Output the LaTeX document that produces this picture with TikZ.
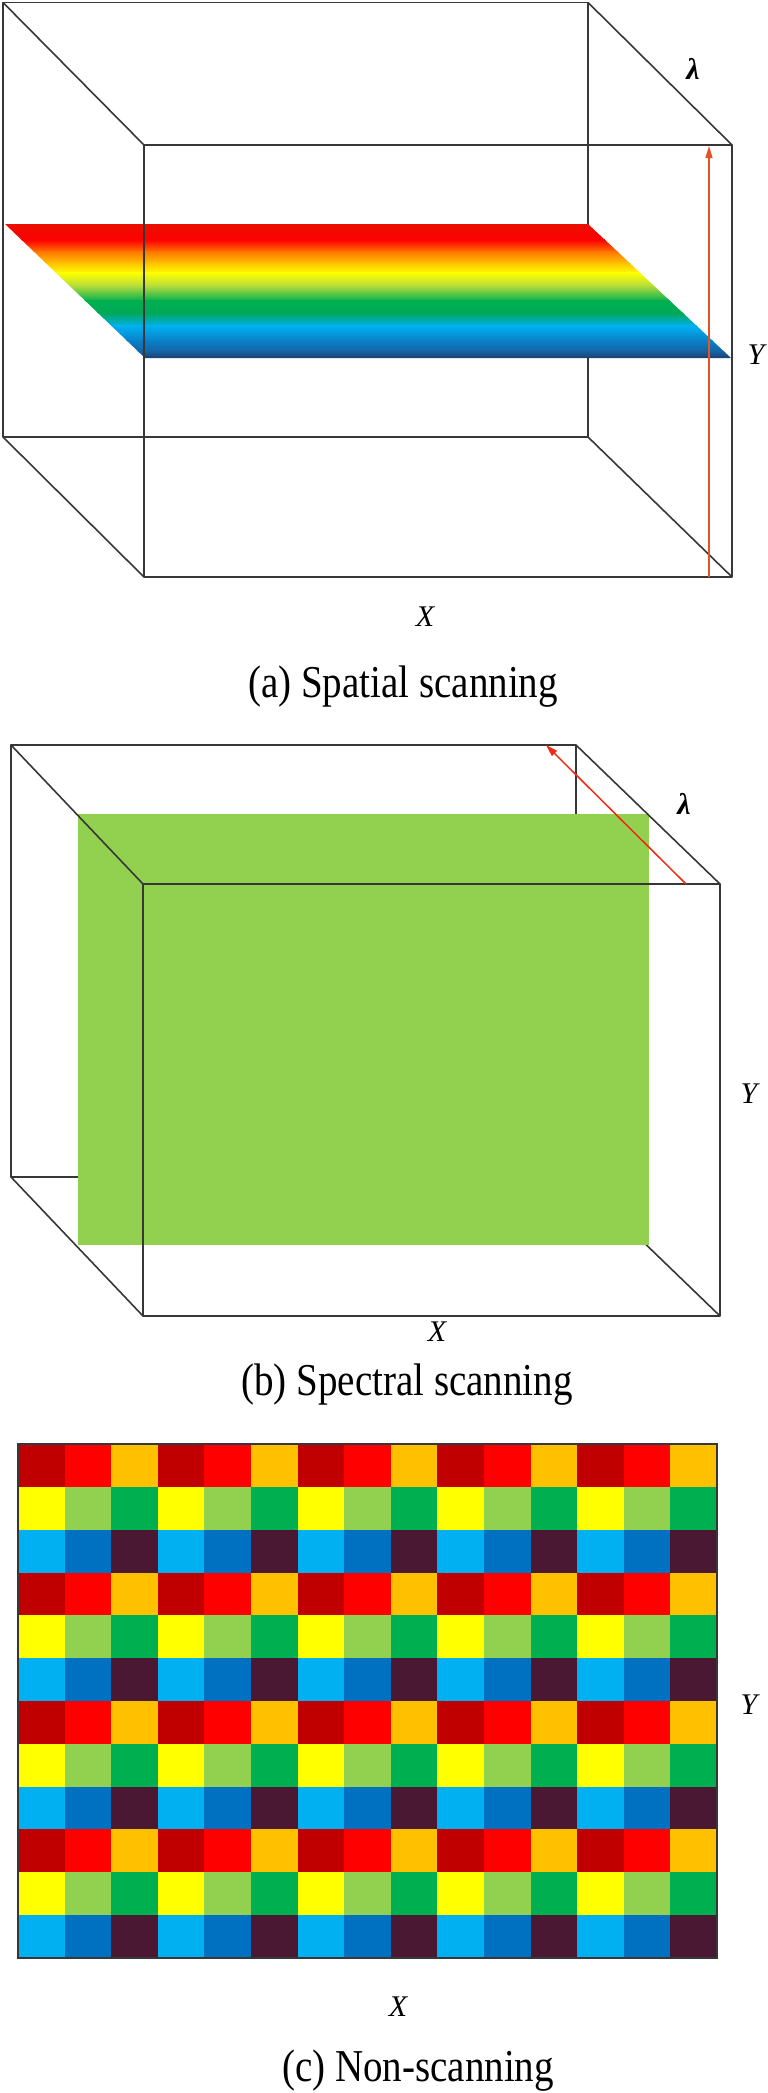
\documentclass[tikz,border=0pt]{standalone}
\usepackage{fontspec}
\setmainfont{Liberation Serif}
\usepackage{xcolor}
\usepackage{graphicx}
\usepackage{tikz}
\usetikzlibrary{arrows.meta, positioning, calc}
\definecolor{HSIEdge}{RGB}{55, 55, 55}
\definecolor{HSIArrowA}{RGB}{226, 84, 36}
\definecolor{HSIArrowB}{RGB}{240, 40, 20}
\definecolor{HSIGreen}{HTML}{92D050}
\definecolor{HSIr0}{HTML}{E81000}
\definecolor{HSIr1}{HTML}{FF0000}
\definecolor{HSIr2}{HTML}{FF7800}
\definecolor{HSIr3}{HTML}{FFC000}
\definecolor{HSIr4}{HTML}{FFFF00}
\definecolor{HSIr5}{HTML}{B4DC3C}
\definecolor{HSIr6}{HTML}{00B050}
\definecolor{HSIr7}{HTML}{00A858}
\definecolor{HSIr8}{HTML}{00B0F0}
\definecolor{HSIr9}{HTML}{0A80C8}
\definecolor{HSIr10}{HTML}{1560A0}
\definecolor{HSIr11}{HTML}{203864}
\definecolor{HSIc00}{HTML}{C00000}
\definecolor{HSIc01}{HTML}{FF0000}
\definecolor{HSIc02}{HTML}{FFC000}
\definecolor{HSIc10}{HTML}{FFFF00}
\definecolor{HSIc11}{HTML}{92D050}
\definecolor{HSIc12}{HTML}{00B050}
\definecolor{HSIc20}{HTML}{00B0F0}
\definecolor{HSIc21}{HTML}{0070C0}
\definecolor{HSIc22}{HTML}{4A1832}
\newcommand{\capt}[1]{{\fontsize{39}{44}\selectfont\scalebox{1}[1.17]{#1}}}
\newcommand{\axis}[1]{{\fontsize{30}{34}\selectfont\itshape #1}}

\begin{document}
\begin{tikzpicture}[x=1pt, y=-1pt,
    edge/.style={draw=HSIEdge, line width=1.6pt, line join=round},
    scanarrow/.style={line width=1.5pt, -{Triangle[length=12pt, width=7pt]}}]
  \useasboundingbox (0,0) rectangle (768,2093);

  % (a) spatial scanning
  \coordinate (aBTL) at (3,2.5);   \coordinate (aBTR) at (588,2.5);
  \coordinate (aBBR) at (588,437); \coordinate (aBBL) at (3,437);
  \coordinate (aFTL) at (144,145); \coordinate (aFTR) at (732,145);
  \coordinate (aFBR) at (732,577); \coordinate (aFBL) at (144,577);
  \draw[edge] (aBTL) rectangle (aBBR);
  \draw[edge] (aBTL) -- (aFTL) (aBTR) -- (aFTR) (aBBL) -- (aFBL) (aBBR) -- (aFBR);
  \begin{scope}
    \clip (5,224) -- (588,224) -- (731,358) -- (145,358) -- cycle;
    \foreach \ya/\yb/\ca/\cb in {224/240/HSIr0/HSIr1, 240/252/HSIr1/HSIr2,
        252/263/HSIr2/HSIr3, 263/273/HSIr3/HSIr4, 273/286/HSIr4/HSIr5,
        286/301/HSIr5/HSIr6, 301/313/HSIr6/HSIr7, 313/326/HSIr7/HSIr8,
        326/341/HSIr8/HSIr9, 341/352/HSIr9/HSIr10, 352/359/HSIr10/HSIr11}
      \shade[top color=\ca, bottom color=\cb] (0,\ya-0.4) rectangle (740,\yb+0.4);
  \end{scope}
  \draw[edge] (aFTL) rectangle (aFBR);
  \coordinate (aFoot) at (709,577);
  \coordinate (aTip) at (709,146);
  \draw[scanarrow, HSIArrowA, line width=1.3pt] (aFoot) -- (aTip);
  \node (lamA) at (693,69) {\axis{\bfseries λ}};
  \node (yA) at (756,355) {\axis{Y}};
  \node (xA) at (425,617) {\axis{X}};
  \node[anchor=base] (capA) at (403,697) {\capt{(a) Spatial scanning}};

  % (b) spectral scanning
  \coordinate (bBTL) at (11,745);  \coordinate (bBTR) at (576,745);
  \coordinate (bBBR) at (576,1177); \coordinate (bBBL) at (11,1177);
  \coordinate (bFTL) at (143,884); \coordinate (bFTR) at (720,884);
  \coordinate (bFBR) at (720,1316); \coordinate (bFBL) at (143,1316);
  \draw[edge] (bBTL) rectangle (bBBR);
  \draw[edge] (bBBL) -- (bFBL) (bBBR) -- (bFBR);
  \fill[HSIGreen] (78,814) rectangle (649,1245);
  \draw[edge] (bBTL) -- (bFTL) (bBTR) -- (bFTR);
  \draw[edge] (bFTL) rectangle (bFBR);
  \coordinate (bFoot) at (686,884);
  \coordinate (bTip) at (546,745);
  \draw[scanarrow, HSIArrowB] (bFoot) -- (bTip);
  \node (lamB) at (684,804) {\axis{\bfseries λ}};
  \node (yB) at (749,1094) {\axis{Y}};
  \node (xB) at (437,1332) {\axis{X}};
  \node[anchor=base] (capB) at (407,1395) {\capt{(b) Spectral scanning}};

  % (c) non-scanning
  \foreach \r in {0,...,11}{
    \foreach \c in {0,...,14}{
      \pgfmathtruncatemacro\rowk{mod(\r,3)}
      \pgfmathtruncatemacro\colk{mod(\c,3)}
      \fill[HSIc\rowk\colk] ({18+\c*46.6},{1444+\r*42.83}) rectangle ++(46.7,42.9);
    }
  }
  \draw[draw=HSIEdge, line width=1.2pt] (18,1444) rectangle (717,1958);
  \node (yC) at (749,1705) {\axis{Y}};
  \node (xC) at (398,2007) {\axis{X}};
  \node[anchor=base] (capC) at (418,2081) {\capt{(c) Non-scanning}};
\end{tikzpicture}
\end{document}
